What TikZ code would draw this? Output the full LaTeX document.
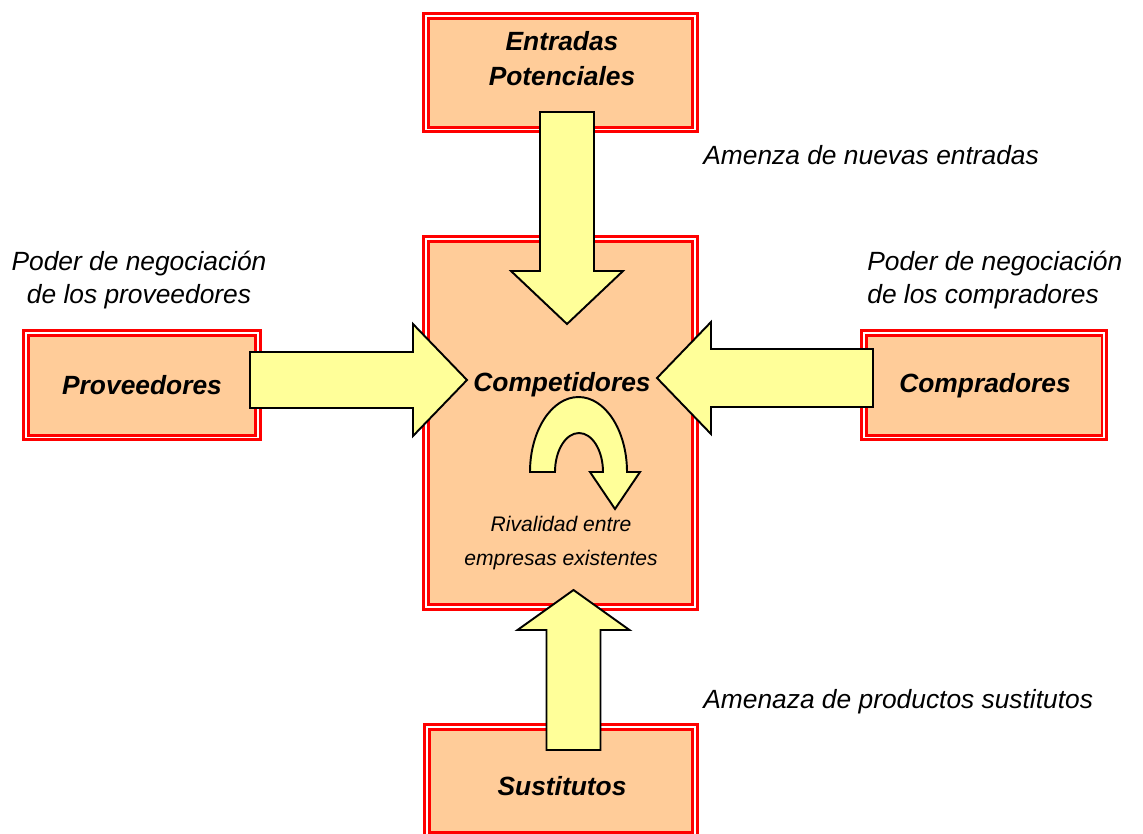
\documentclass[tikz,border=0pt]{standalone}
\usepackage{fontspec}
\setmainfont{Liberation Sans}
\definecolor{peach}{HTML}{FFCC99}
\definecolor{paleyellow}{HTML}{FFFF99}
\tikzset{forcebox/.style={
    draw=red, line width=1.7pt, double=white, double distance=0.85pt,
    fill=peach, inner sep=0pt
  },
  arrowbody/.style={draw=black, line width=1.1pt, fill=paleyellow, line join=miter},
  forcename/.style={font=\bfseries\itshape\fontsize{15}{19.8}\selectfont, align=center, inner sep=0pt},
  forcenote/.style={font=\itshape\fontsize{15}{19.3}\selectfont, align=center, inner sep=0pt},
  pics/bigarrow/.style n args={3}{code={
    \draw[arrowbody] (0,-#3) -- (#1-#2,-#3) -- (#1-#2,-56) -- (#1,0)
      -- (#1-#2,56) -- (#1-#2,#3) -- (0,#3) -- cycle;
  }}
}

\begin{document}
\begin{tikzpicture}[x=0.02cm, y=-0.02cm]
    \useasboundingbox (0,0) rectangle (1143,833);
    \clip (0,0) rectangle (1143,833);

    \node[forcebox, minimum width=5.39cm, minimum height=2.27cm] (entradas) at (560.5,72.5) {};
    \node[forcebox, minimum width=5.39cm, minimum height=7.37cm] (competidores) at (560.5,423) {};
    \node[forcebox, minimum width=4.65cm, minimum height=2.09cm] (proveedores) at (142,385) {};
    \node[forcebox, minimum width=4.81cm, minimum height=2.09cm] (compradores) at (984,385) {};
    \node[forcebox, minimum width=5.37cm, minimum height=2.15cm] (sustitutos) at (561,780.5) {};

    % block arrows into the centre box
    \coordinate (entradastail) at (567,112);
    \coordinate (proveedorestail) at (250,380);
    \coordinate (compradorestail) at (873,378);
    \coordinate (sustitutostail) at (573.5,750);
    \pic[rotate=-90] at (entradastail) {bigarrow={212}{53}{27}};
    \pic at (proveedorestail) {bigarrow={217}{54}{28}};
    \pic[rotate=180] at (compradorestail) {bigarrow={216}{54}{29}};
    \pic[rotate=90] at (sustitutostail) {bigarrow={160}{40}{27}};

    % rivalry
    \draw[arrowbody] (530,472) arc[start angle=180, end angle=360, x radius=48.5, y radius=75]
      -- (640,472) -- (615,509) -- (590,472) -- (603,472)
      arc[start angle=0, end angle=-180, x radius=24, y radius=39] -- cycle;

    \node[forcename] (entradaslbl) at (562,58.5) {Entradas\\Potenciales};
    \node[forcename] (competidoreslbl) at (562,385) {Competidores};
    \node[forcename] (proveedoreslbl) at (142,385) {Proveedores};
    \node[forcename] (compradoreslbl) at (985,386) {Compradores};
    \node[forcename] (sustitutoslbl) at (562,786) {Sustitutos};

    \node[forcenote] (provnote) at (139,280) {Poder de negociación\\de los proveedores};
    \node[forcenote, anchor=west, align=left] (compnote) at (867,280) {Poder de negociación\\de los compradores};
    \node[forcenote, anchor=west] (entnote) at (703,155) {Amenza de nuevas entradas};
    \node[forcenote, anchor=west] (sustnote) at (703,702) {Amenaza de productos sustitutos};
    \node[forcenote, font=\itshape\fontsize{12}{19.3}\selectfont] (rivnote) at (561,543) {Rivalidad entre\\empresas existentes};
\end{tikzpicture}
\end{document}
